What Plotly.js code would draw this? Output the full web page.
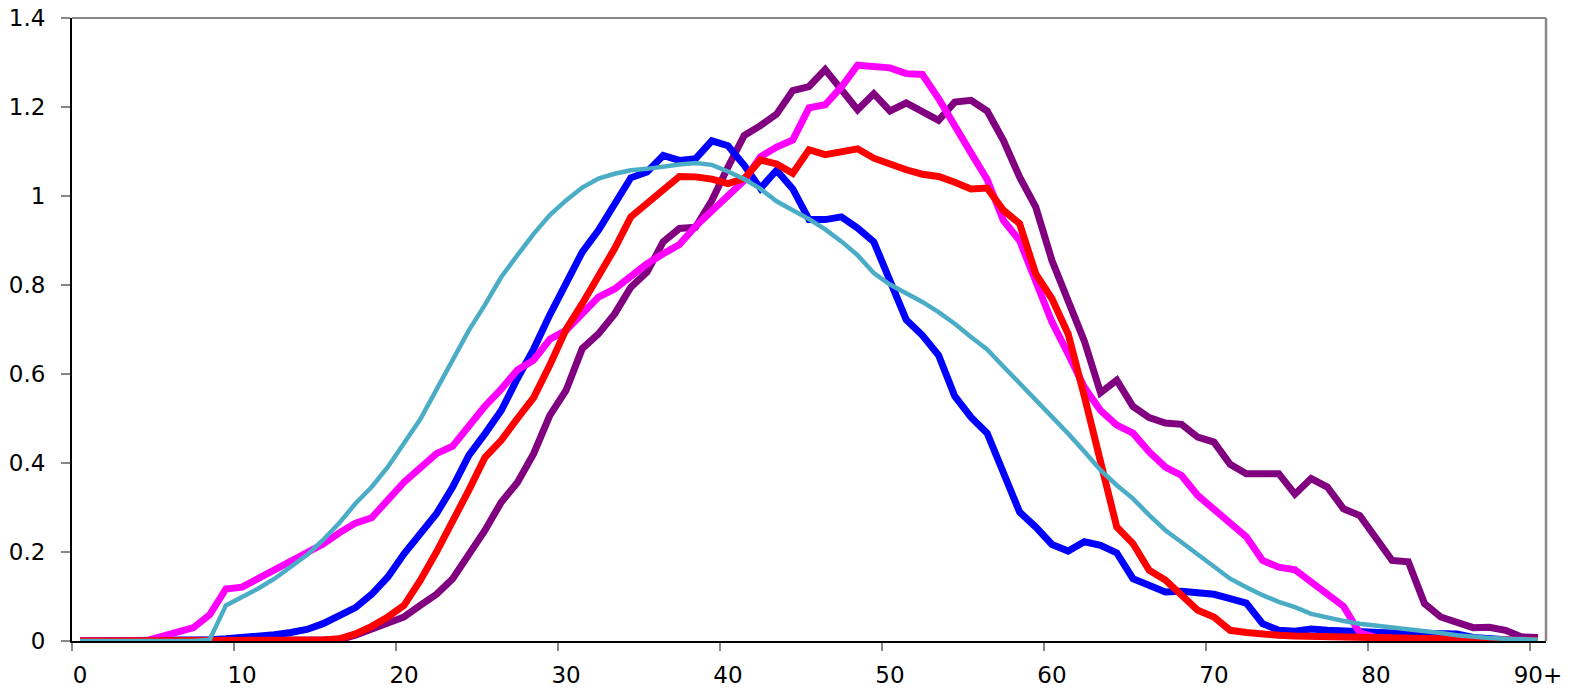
<!DOCTYPE html>
<html>
<head>
<meta charset="utf-8">
<script src="https://cdn.plot.ly/plotly-3.0.1.min.js"></script>
<style>
html,body{margin:0;padding:0;background:#fff;}
#chart{width:1585px;height:688px;}
</style>
</head>
<body>
<div id="chart"></div>
<script>
// Ages 0 .. 90+ (91 categories)
const ages = Array.from({length: 91}, (_, i) => i);
const tickPositions = [0, 10, 20, 30, 40, 50, 60, 70, 80, 90];
const tickLabels = ["0", "10", "20", "30", "40", "50", "60", "70", "80", "90+"];

const seriesBlue = [0,0,0,0,0,0.001,0.002,0.002,0.003,0.005,
  0.007,0.01,0.014,0.019,0.026,0.039,0.055,0.075,0.105,0.144,
  0.196,0.241,0.286,0.346,0.417,0.466,0.518,0.59,0.656,0.733,
  0.80,0.874,0.923,0.983,1.041,1.054,1.091,1.08,1.084,1.124,
  1.113,1.069,1.017,1.058,1.016,0.947,0.947,0.953,0.928,0.897,
  0.805,0.722,0.687,0.642,0.55,0.503,0.467,0.38,0.29,0.256,
  0.217,0.202,0.223,0.215,0.198,0.14,0.125,0.11,0.112,0.109,
  0.105,0.095,0.085,0.039,0.024,0.022,0.027,0.024,0.022,0.02,
  0.019,0.018,0.018,0.017,0.017,0.016,0.008,0.004,0.003,0.002,0.002];

const seriesRed = [0,0,0,0,0,0,0,0,0,0,
  0,0,0,0,0.001,0.002,0.005,0.016,0.033,0.054,
  0.08,0.136,0.2,0.267,0.339,0.413,0.451,0.5,0.547,0.62,
  0.70,0.758,0.818,0.882,0.953,0.983,1.013,1.044,1.043,1.038,
  1.028,1.039,1.081,1.072,1.051,1.104,1.093,1.099,1.106,1.085,
  1.07,1.059,1.049,1.044,1.031,1.016,1.018,0.968,0.938,0.825,
  0.769,0.69,0.55,0.40,0.256,0.219,0.159,0.137,0.103,0.069,
  0.054,0.024,0.019,0.015,0.013,0.011,0.01,0.009,0.008,0.007,
  0.007,0.006,0.005,0.005,0.004,0.004,0.003,0.003,0.002,0.002,0.002];

const seriesMagenta = [0,0,0,0,0,0.01,0.02,0.03,0.059,0.117,
  0.121,0.14,0.16,0.18,0.20,0.218,0.243,0.265,0.277,0.316,
  0.357,0.389,0.421,0.438,0.485,0.528,0.566,0.609,0.631,0.678,
  0.698,0.738,0.773,0.791,0.822,0.848,0.87,0.891,0.932,0.968,
  1.001,1.035,1.088,1.11,1.126,1.198,1.205,1.245,1.294,1.291,
  1.288,1.275,1.273,1.219,1.154,1.097,1.037,0.945,0.9,0.81,
  0.717,0.645,0.57,0.518,0.485,0.467,0.425,0.391,0.372,0.327,
  0.295,0.265,0.234,0.181,0.166,0.16,0.133,0.106,0.078,0.018,
  0.008,0.006,0.005,0.004,0.003,0.003,0.002,0.002,0.001,0.001,0.001];

const seriesPurple = [0,0,0,0,0,0,0,0,0,0,
  0,0,0,0,0,0,0.003,0.013,0.028,0.043,
  0.054,0.08,0.105,0.14,0.193,0.249,0.312,0.356,0.421,0.507,
  0.563,0.657,0.69,0.735,0.795,0.829,0.897,0.927,0.93,0.99,
  1.065,1.136,1.158,1.184,1.237,1.246,1.284,1.241,1.194,1.23,
  1.191,1.209,1.191,1.17,1.211,1.215,1.191,1.125,1.043,0.975,
  0.855,0.76,0.674,0.558,0.586,0.527,0.502,0.49,0.487,0.458,
  0.447,0.397,0.376,0.376,0.376,0.33,0.365,0.346,0.297,0.282,
  0.234,0.181,0.178,0.084,0.054,0.043,0.03,0.031,0.024,0.009,0.008];

const seriesTeal = [0,0,0,0,0,0,0,0,0.003,0.08,
  0.099,0.118,0.14,0.166,0.193,0.227,0.265,0.309,0.346,0.391,
  0.443,0.498,0.565,0.631,0.698,0.756,0.818,0.867,0.915,0.957,
  0.99,1.019,1.039,1.05,1.058,1.061,1.067,1.071,1.074,1.07,
  1.055,1.038,1.016,0.988,0.968,0.948,0.925,0.898,0.867,0.827,
  0.801,0.781,0.762,0.739,0.713,0.683,0.655,0.617,0.58,0.542,
  0.505,0.466,0.426,0.384,0.35,0.32,0.283,0.249,0.222,0.195,
  0.168,0.14,0.121,0.103,0.088,0.076,0.061,0.052,0.045,0.039,
  0.035,0.032,0.028,0.023,0.018,0.013,0.009,0.007,0.005,0.004,0.003];

const minorTicks = [-0.5, 9.5, 19.5, 29.5, 39.5, 49.5, 59.5, 69.5, 79.5, 89.5];

function tr(y, color, width) {
  return {x: ages, y: y, type: 'scatter', mode: 'lines',
    line: {color: color, width: width, shape: 'linear'},
    hoverinfo: 'skip', showlegend: false};
}

const data = [
  tr(seriesPurple, '#800080', 7),
  tr(seriesBlue, '#0000FF', 7),
  tr(seriesMagenta, '#FF00FF', 7),
  tr(seriesRed, '#FF0000', 7),
  tr(seriesTeal, '#4BACC6', 4.5)
];

const font = {family: 'DejaVu Sans, Liberation Sans, Arial, sans-serif', size: 23, color: '#000'};

const layout = {
  width: 1585, height: 688,
  margin: {l: 72, r: 39, t: 18, b: 47, pad: 0},
  paper_bgcolor: '#fff', plot_bgcolor: '#fff',
  showlegend: false,
  font: font,
  xaxis: {
    range: [-0.5, 90.5], fixedrange: true,
    tickmode: 'array', tickvals: tickPositions, ticktext: tickLabels,
    ticks: '', showgrid: false, zeroline: false,
    showline: true, linecolor: '#000', linewidth: 2,
    tickfont: font, ticklabelstandoff: 12,
    minor: {tickmode: 'array', tickvals: minorTicks, ticks: 'outside', ticklen: 8, tickwidth: 1.5, tickcolor: '#888', showgrid: false}
  },
  yaxis: {
    range: [0, 1.4], fixedrange: true,
    tickmode: 'linear', tick0: 0, dtick: 0.2,
    ticks: 'outside', ticklen: 9, tickwidth: 1.5, tickcolor: '#888',
    showgrid: false, zeroline: false,
    showline: true, linecolor: '#000', linewidth: 2,
    tickfont: font, ticklabelstandoff: 11
  },
  shapes: [
    {type: 'line', xref: 'paper', yref: 'paper', x0: 0, x1: 1, y0: 1, y1: 1, line: {color: '#888', width: 2}},
    {type: 'line', xref: 'paper', yref: 'paper', x0: 1, x1: 1, y0: 0, y1: 1, line: {color: '#888', width: 2.5}}
  ]
};

Plotly.newPlot('chart', data, layout, {staticPlot: true, displayModeBar: false});
</script>
</body>
</html>
